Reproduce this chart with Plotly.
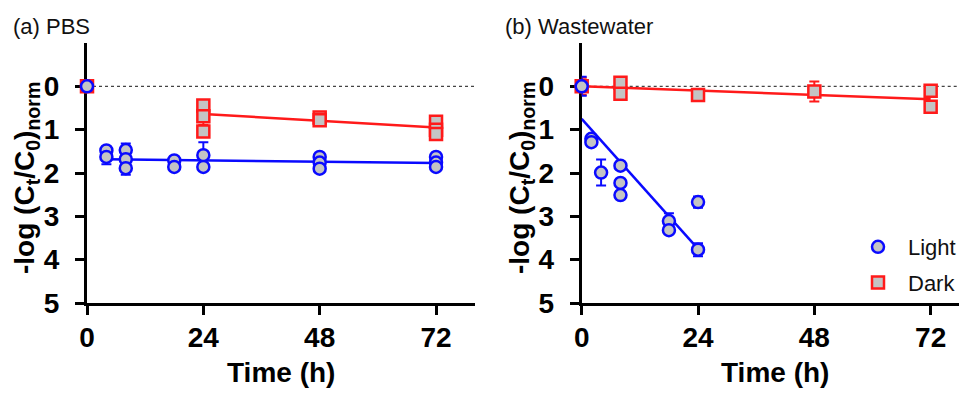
import plotly.graph_objects as go

# ---------------- data ----------------
# Panel (a) PBS
a_light_t = [0, 4, 4, 8, 8, 8, 18, 18, 24, 24, 48, 48, 48, 72, 72, 72]
a_light_y = [0, 1.48, 1.63, 1.47, 1.68, 1.89, 1.71, 1.86, 1.59, 1.86, 1.63, 1.76, 1.90, 1.63, 1.76, 1.86]
a_light_err = [None, None, 0.17, None, 0.36, None, None, None, 0.30, None, None, None, None, 0.10, None, None]
a_dark_t = [0, 24, 24, 24, 48, 48, 72, 72, 72]
a_dark_y = [0, 0.44, 0.69, 1.04, 0.72, 0.78, 0.82, 1.0, 1.1]
a_dark_err = [None, None, 0.2, None, None, None, None, None, None]
a_light_fit_t = [4, 72]
a_light_fit_y = [1.68, 1.77]
a_dark_fit_t = [24, 72]
a_dark_fit_y = [0.64, 0.95]

# Panel (b) Wastewater
b_light_t = [0, 2, 2, 4, 8, 8, 8, 18, 18, 24, 24]
b_light_y = [0, 1.21, 1.29, 1.99, 1.83, 2.23, 2.51, 3.11, 3.32, 2.67, 3.77]
b_light_err = [0.22, None, None, 0.30, None, None, None, 0.18, None, 0.13, 0.15]
b_dark_t = [0, 8, 8, 24, 48, 72, 72]
b_dark_y = [0, -0.08, 0.17, 0.20, 0.12, 0.10, 0.47]
b_dark_err = [0.20, None, None, None, 0.23, None, None]
b_light_fit_t = [0, 24]
b_light_fit_y = [0.75, 3.75]
b_dark_fit_t = [0, 72]
b_dark_fit_y = [0.0, 0.30]

x_ticks = [0, 24, 48, 72]
y_ticks = [0, 1, 2, 3, 4, 5]
panel_titles = ["(a) PBS", "(b) Wastewater"]
series_names = ["Light", "Dark"]

# ---------------- styling ----------------
# the page places the figure 8 px in from the top-left corner of the window
OFF = 8
W, H = 967 - OFF, 393 - OFF
BLUE = "#0a0aff"
RED = "#ff1a1a"
FILL = "#c4c4c4"
FONT = "Liberation Sans, Arial, Helvetica, sans-serif"


def px_x(p):
    return (p - OFF) / W


def px_y(p):
    return 1 - (p - OFF) / H


fig = go.Figure()


def add_panel(xa, ya, lt, ly, le, dt, dy, de, lft, lfy, dft, dfy, show):
    # dark first so light circles sit on top
    fig.add_trace(go.Scatter(
        x=dft, y=dfy, mode="lines", line=dict(color=RED, width=2.5),
        xaxis=xa, yaxis=ya, showlegend=False, hoverinfo="skip"))
    fig.add_trace(go.Scatter(
        x=lft, y=lfy, mode="lines", line=dict(color=BLUE, width=2.5),
        xaxis=xa, yaxis=ya, showlegend=False, hoverinfo="skip"))
    fig.add_trace(go.Scatter(
        x=dt, y=dy, mode="markers", name=series_names[1],
        legendgroup="dark", legendrank=2, showlegend=show,
        marker=dict(symbol="square", size=12, color=FILL, line=dict(color=RED, width=2.5)),
        error_y=dict(type="data", array=de, visible=True, color=RED, thickness=2, width=5),
        xaxis=xa, yaxis=ya, cliponaxis=False))
    fig.add_trace(go.Scatter(
        x=lt, y=ly, mode="markers", name=series_names[0],
        legendgroup="light", legendrank=1, showlegend=show,
        marker=dict(symbol="circle", size=12, color=FILL, line=dict(color=BLUE, width=2.5)),
        error_y=dict(type="data", array=le, visible=True, color=BLUE, thickness=2, width=5),
        xaxis=xa, yaxis=ya, cliponaxis=False))


add_panel("x", "y", a_light_t, a_light_y, a_light_err, a_dark_t, a_dark_y, a_dark_err,
          a_light_fit_t, a_light_fit_y, a_dark_fit_t, a_dark_fit_y, False)
add_panel("x2", "y2", b_light_t, b_light_y, b_light_err, b_dark_t, b_dark_y, b_dark_err,
          b_light_fit_t, b_light_fit_y, b_dark_fit_t, b_dark_fit_y, True)

axis_common = dict(
    showline=True, linecolor="black", linewidth=3, mirror=False,
    ticks="outside", ticklen=9, tickwidth=3, tickcolor="black",
    showgrid=False, zeroline=False, layer="below traces", automargin=False,
    tickfont=dict(family=FONT, size=28, color="black", weight="bold"),
)
xaxis_common = dict(axis_common, ticklabelstandoff=-2)
yaxis_common = dict(axis_common, ticklabelstandoff=10)

ydom = [px_y(303), px_y(43)]
fig.update_layout(
    width=W, height=H, autosize=False,
    margin=dict(l=0, r=0, t=0, b=0, pad=0, autoexpand=False),
    paper_bgcolor="white", plot_bgcolor="white",
    font=dict(family=FONT, color="black"),
    xaxis=dict(domain=[px_x(87), px_x(474.8)], range=[0, 80], tickvals=x_ticks,
               anchor="y", **xaxis_common),
    yaxis=dict(domain=ydom, range=[5, -1], tickvals=y_ticks, anchor="x", **yaxis_common),
    xaxis2=dict(domain=[px_x(581.7), 1.0], range=[0, 79.5], tickvals=x_ticks,
                anchor="y2", **xaxis_common),
    yaxis2=dict(domain=ydom, range=[5, -1], tickvals=y_ticks, anchor="x2", **yaxis_common),
    legend=dict(x=px_x(848), y=px_y(226), xanchor="left", yanchor="top",
                font=dict(family=FONT, size=22, color="#111"),
                bgcolor="rgba(0,0,0,0)", traceorder="grouped", tracegroupgap=4,
                itemwidth=50),
    showlegend=True,
)

# dotted reference line at y = 0
for xr, yr in (("x", "y"), ("x2", "y2")):
    fig.add_shape(type="line", xref=f"{xr} domain", yref=yr, x0=0, x1=1, y0=0, y1=0,
                  line=dict(color="#444", width=1.2, dash="dot"), layer="below")

# panel titles
fig.add_annotation(text=panel_titles[0], xref="paper", yref="paper", x=px_x(11), y=px_y(26),
                   xanchor="left", yanchor="middle", showarrow=False,
                   font=dict(family=FONT, size=22, color="#111"))
fig.add_annotation(text=panel_titles[1], xref="paper", yref="paper", x=px_x(503), y=px_y(26),
                   xanchor="left", yanchor="middle", showarrow=False,
                   font=dict(family=FONT, size=22, color="#111"))

# axis titles
ytitle = "<b>-log (C<sub>t</sub>/C<sub>0</sub>)<sub>norm</sub></b>"
for cx in (27, 522):
    fig.add_annotation(text=ytitle, xref="paper", yref="paper", x=px_x(cx), y=px_y(178),
                       xanchor="center", yanchor="middle", textangle=-90, showarrow=False,
                       font=dict(family=FONT, size=28, color="black"))
for cx in (281, 775):
    fig.add_annotation(text="<b>Time (h)</b>", xref="paper", yref="paper", x=px_x(cx), y=px_y(372),
                       xanchor="center", yanchor="middle", showarrow=False,
                       font=dict(family=FONT, size=28, color="black"))

fig.write_html("out.html")
